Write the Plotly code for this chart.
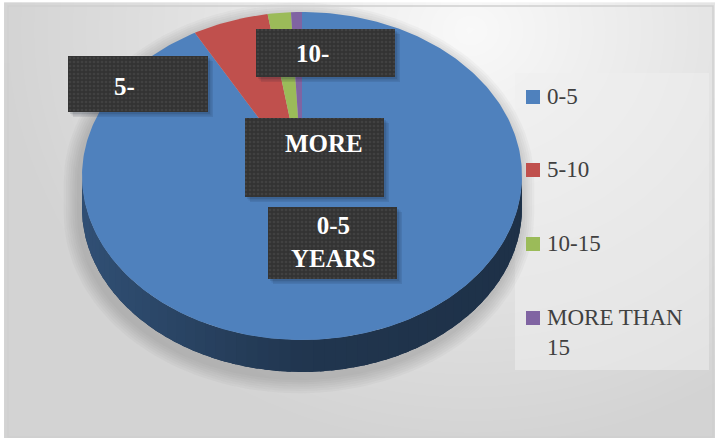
import numpy as np
import plotly.graph_objects as go

# ---- data -------------------------------------------------------------
categories = ["0-5", "5-10", "10-15", "MORE THAN 15"]
shares = [91.9, 5.6, 1.7, 0.8]
slice_colors = ["#4f81bd", "#c0504d", "#9bbb59", "#8064a2"]
data_labels = ["0-5<br>YEARS", "5-", "10-", "MORE"]
legend_labels = ["0-5", "5-10", "10-15", "MORE THAN<br>15"]

# ---- layout geometry (pixel space, y grows downward) ------------------
W, H = 715, 438
FRAME = (8, 6, 713, 437)
CX, CY, RX, RY, DEPTH = 302, 176, 220, 164, 32
LABEL_BOXES = [(268, 207, 397, 279), (68, 56, 208, 112),
               (256, 29, 395, 77), (245, 118, 384, 197)]
LABEL_TEXT_POS = [(333, 242), (124, 86), (312, 53), (324, 143)]
LEGEND_BOX = (515, 73, 709, 370)
LEGEND_ROWS = [97, 170, 244, 318]
SERIF = "Liberation Serif"

fig = go.Figure()

# background gradient inside the frame
gx = np.linspace(FRAME[0], FRAME[2], 90)
gy = np.linspace(FRAME[1], FRAME[3], 60)
GX, GY = np.meshgrid(gx, gy)
gz = np.sqrt(((GX - 470) / 470) ** 2 + ((GY - 30) / 420) ** 2)
fig.add_trace(go.Heatmap(
    x=gx, y=gy, z=np.clip(gz, 0, 1), zmin=0, zmax=1, zsmooth="best",
    colorscale=[[0, "#f9f9f9"], [0.5, "#e5e5e5"], [1, "#d3d3d3"]],
    showscale=False, hoverinfo="skip"))


def poly(xs, ys, color, **kw):
    fig.add_trace(go.Scatter(x=list(xs) + [xs[0]], y=list(ys) + [ys[0]],
                             mode="lines", fill="toself", fillcolor=color,
                             line=dict(width=0, color=color),
                             hoverinfo="skip", showlegend=False, **kw))


def rect(x0, y0, x1, y1, color, **kw):
    poly([x0, x1, x1, x0], [y0, y0, y1, y1], color, **kw)


# legend panel
rect(*LEGEND_BOX, "rgba(238,238,238,0.55)")

# soft shadow of the whole pie body
for k in range(7):
    grow = 2 + 2.2 * k
    t1 = np.linspace(-np.pi / 2, np.pi / 2, 80)
    t2 = np.linspace(np.pi / 2, 3 * np.pi / 2, 80)
    sx = np.concatenate([CX + (RX + grow) * np.sin(t1) - 3,
                         CX + (RX + grow) * np.sin(t2) - 3])
    sy = np.concatenate([CY + 6 - (RY + grow) * np.cos(t1),
                         CY + 6 + DEPTH - (RY + grow) * np.cos(t2)])
    poly(sx, sy, "rgba(90,90,90,0.045)")

# slice angles, clockwise from 12 o'clock
total = sum(shares)
bounds = np.concatenate([[0], np.cumsum(shares) / total * 2 * np.pi])


def ex(t):
    return CX + RX * np.sin(t)


def ey(t, dy=0.0):
    return CY + dy - RY * np.cos(t)


def shade(hex_color, f):
    h = hex_color.lstrip("#")
    r, g, b = (int(h[i:i + 2], 16) for i in (0, 2, 4))
    return "rgb(%d,%d,%d)" % (r * f, g * f, b * f)


def side_factor(t):
    s = np.sin(t)
    return 0.42 + 0.2 * max(-s, 0) - 0.04 * max(s, 0)


# side wall (visible lower half only): a base band, then shaded strips
for i, col in enumerate(slice_colors):
    a0, a1 = max(bounds[i], np.pi / 2), min(bounds[i + 1], 3 * np.pi / 2)
    if a1 <= a0:
        continue
    tt = np.linspace(a0, a1, 120)
    poly(np.concatenate([ex(tt), ex(tt[::-1])]),
         np.concatenate([ey(tt), ey(tt[::-1], DEPTH)]),
         shade(col, 0.45))
    edges = np.linspace(a0, a1, max(2, int((a1 - a0) / 0.05)) + 1)
    for s0, s1 in zip(edges[:-1], edges[1:]):
        tt = np.linspace(s0, min(s1 + 0.02, a1), 4)
        xs = np.concatenate([ex(tt), ex(tt[::-1])])
        ys = np.concatenate([ey(tt), ey(tt[::-1], DEPTH)])
        poly(xs, ys, shade(col, side_factor((s0 + s1) / 2)))

# top faces
for i, col in enumerate(slice_colors):
    tt = np.linspace(bounds[i], bounds[i + 1], max(3, int(shares[i] * 4)))
    xs = np.concatenate([[CX], ex(tt)])
    ys = np.concatenate([[CY], ey(tt)])
    poly(xs, ys, col)

# data label boxes with shadow and dotted texture
for (x0, y0, x1, y1) in LABEL_BOXES:
    for k, a in enumerate([0.10, 0.10, 0.12]):
        off = 5 - k * 1.5
        rect(x0 + off, y0 + off, x1 + off, y1 + off, "rgba(20,30,50,%.2f)" % a)
    rect(x0, y0, x1, y1, "#333333",
         fillpattern=dict(shape=".", size=4, solidity=0.35,
                          fgcolor="#505050", bgcolor="#333333"))

annotations = []
for text, (tx, ty) in zip(data_labels, LABEL_TEXT_POS):
    annotations.append(dict(
        x=tx, y=ty, text=text, showarrow=False,
        xref="x", yref="y", xanchor="center", yanchor="middle",
        font=dict(family=SERIF, size=25, color="white", weight="bold")))

# legend markers and text
fig.add_trace(go.Scatter(
    x=[533] * len(categories), y=LEGEND_ROWS, mode="markers",
    marker=dict(symbol="square", size=14, color=slice_colors,
                line=dict(width=0)),
    hoverinfo="skip", showlegend=False))
for text, yy in zip(legend_labels, LEGEND_ROWS):
    annotations.append(dict(
        x=545, y=yy - 15, text=text, showarrow=False, align="left",
        xref="x", yref="y", xanchor="left", yanchor="top",
        font=dict(family=SERIF, size=23, color="#404040")))

fig.update_layout(
    width=W, height=H, margin=dict(l=0, r=0, t=0, b=0),
    paper_bgcolor="white", plot_bgcolor="white",
    xaxis=dict(range=[0, W], visible=False, fixedrange=True),
    yaxis=dict(range=[H, 0], visible=False, fixedrange=True),
    showlegend=False, annotations=annotations,
    shapes=[dict(type="rect", xref="x", yref="y",
                 x0=FRAME[0], y0=FRAME[1], x1=FRAME[2], y1=FRAME[3],
                 line=dict(color="#cfcfcf", width=1.5))])

fig.write_html("out.html")
